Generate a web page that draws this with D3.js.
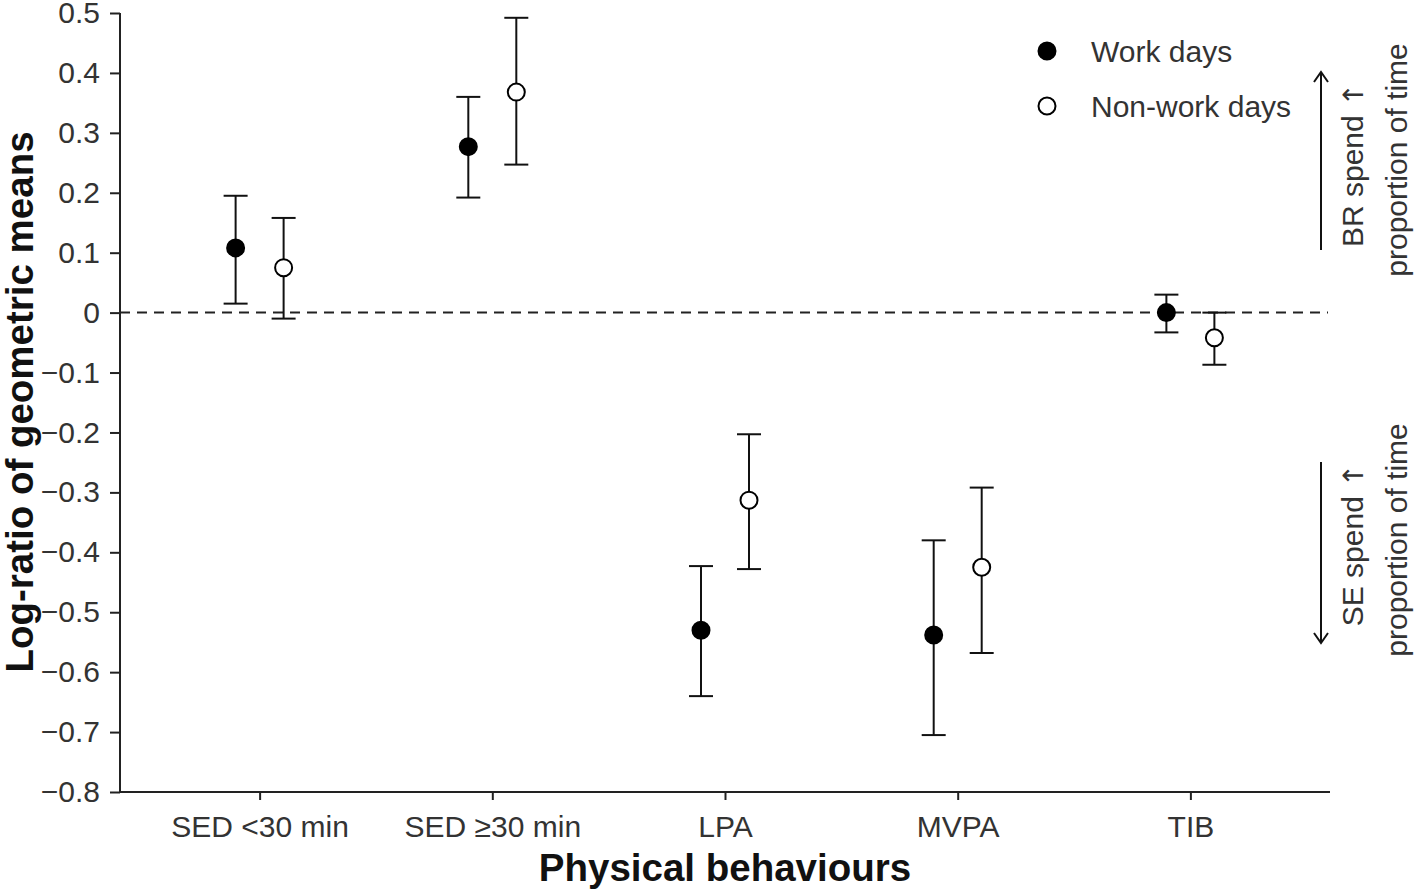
<!DOCTYPE html>
<html><head><meta charset="utf-8">
<script src="https://cdn.jsdelivr.net/npm/d3@7"></script>
<style>body{margin:0;background:#fff}svg{display:block}</style>
</head><body>
<svg id="c" width="1416" height="893"></svg>
<script>
const categories = ["SED <30 min","SED \u226530 min","LPA","MVPA","TIB"];
const workMean  = [0.108, 0.277, -0.530, -0.538, 0.000];
const workLow   = [0.015, 0.192, -0.640, -0.705, -0.033];
const workHigh  = [0.195, 0.360, -0.423, -0.380, 0.030];
const nonMean   = [0.075, 0.368, -0.313, -0.425, -0.042];
const nonLow    = [-0.010, 0.247, -0.428, -0.568, -0.087];
const nonHigh   = [0.158, 0.492, -0.203, -0.292, 0.000];
const yTicks = [0.5,0.4,0.3,0.2,0.1,0,-0.1,-0.2,-0.3,-0.4,-0.5,-0.6,-0.7,-0.8];
const seriesNames = ["Work days","Non-work days"];

(function(){
const svg = d3.select("#c");
const font = "'Liberation Sans', Arial, sans-serif";
const fs = 30;
const pL = 120, pR = 1330, pT = 13, pB = 792;

const x = d3.scalePoint().domain(categories).range([pL, pR]).padding(0.6);
const y = d3.scaleLinear().domain([-0.8, 0.5]).range([pB, pT]);

const yAxis = svg.append("g").attr("transform", `translate(${pL},0)`)
  .call(d3.axisLeft(y).tickValues(yTicks).tickSize(10).tickPadding(10)
    .tickFormat(d => d === 0 ? "0" : d3.format(".1f")(d).replace("-", "\u2212")));
const xAxis = svg.append("g").attr("transform", `translate(0,${pB})`)
  .call(d3.axisBottom(x).tickSize(8).tickPadding(16));
[yAxis, xAxis].forEach(a => {
  a.select(".domain").attr("stroke", "#222").attr("stroke-width", 2);
  a.selectAll(".tick line").attr("stroke", "#222").attr("stroke-width", 2);
  a.selectAll("text").attr("font-family", font).attr("font-size", fs).attr("fill", "#333");
});
xAxis.select(".domain").attr("d", `M${pL},0H${pR}`);
yAxis.select(".domain").attr("d", `M0,${pB}V${pT}`);

svg.append("line").attr("x1", pL).attr("x2", pR - 2)
  .attr("y1", y(0)).attr("y2", y(0))
  .attr("stroke", "#222").attr("stroke-width", 2).attr("stroke-dasharray", "10,7");

const off = 24, cap = 12;
const series = [
  {mean: workMean, lo: workLow, hi: workHigh, dx: -off, fill: "#000"},
  {mean: nonMean, lo: nonLow, hi: nonHigh, dx: off, fill: "#fff"}
];
series.forEach(s => {
  const g = svg.append("g");
  categories.forEach((c, i) => {
    const cx = x(c) + s.dx;
    g.append("line").attr("x1", cx).attr("x2", cx).attr("y1", y(s.lo[i])).attr("y2", y(s.hi[i]))
      .attr("stroke", "#111").attr("stroke-width", 2);
    [s.lo[i], s.hi[i]].forEach(v => g.append("line")
      .attr("x1", cx - cap).attr("x2", cx + cap).attr("y1", y(v)).attr("y2", y(v))
      .attr("stroke", "#111").attr("stroke-width", 2));
    g.append("circle").attr("cx", cx).attr("cy", y(s.mean[i])).attr("r", 8.5)
      .attr("fill", s.fill).attr("stroke", "#000").attr("stroke-width", 2);
  });
});

const legFills = ["#000", "#fff"];
seriesNames.forEach((n, i) => {
  const ly = 51 + i * 55;
  svg.append("circle").attr("cx", 1047).attr("cy", ly).attr("r", 8.5)
    .attr("fill", legFills[i]).attr("stroke", "#000").attr("stroke-width", 2);
  svg.append("text").attr("x", 1091).attr("y", ly + 11).text(n)
    .attr("font-family", font).attr("font-size", fs).attr("fill", "#333");
});

svg.append("text").attr("x", (pL + pR) / 2).attr("y", 881).attr("text-anchor", "middle")
  .attr("font-family", font).attr("font-weight", "bold").attr("font-size", 38.5).attr("fill", "#111")
  .text("Physical behaviours");
svg.append("text").attr("transform", "translate(33,402) rotate(-90)").attr("text-anchor", "middle")
  .attr("font-family", font).attr("font-weight", "bold").attr("font-size", 38.5).attr("fill", "#111")
  .text("Log-ratio of geometric means");

function arrow(x0, y1, y2) {
  svg.append("line").attr("x1", x0).attr("x2", x0).attr("y1", y1).attr("y2", y2)
    .attr("stroke", "#111").attr("stroke-width", 2);
  const d = y2 < y1 ? 1 : -1;
  svg.append("path").attr("d", `M${x0 - 7},${y2 + d * 10}L${x0},${y2}L${x0 + 7},${y2 + d * 10}`)
    .attr("fill", "none").attr("stroke", "#111").attr("stroke-width", 2);
}
arrow(1321, 250, 72);
arrow(1321, 462, 643);
function vtext(xp, yp, t, arrowGlyph) {
  const tx = svg.append("text").attr("transform", `translate(${xp},${yp}) rotate(-90)`).attr("text-anchor", "middle")
    .attr("font-family", font).attr("font-size", fs).attr("fill", "#333");
  tx.append("tspan").text(t);
  if (arrowGlyph) tx.append("tspan").attr("font-family", "'DejaVu Sans', sans-serif").attr("font-size", 28).text(" \u2191");
}
vtext(1363, 165, "BR spend", true);
vtext(1407, 160, "proportion of time", false);
vtext(1363, 545, "SE spend", true);
vtext(1407, 540, "proportion of time", false);
})();
</script>
</body></html>
